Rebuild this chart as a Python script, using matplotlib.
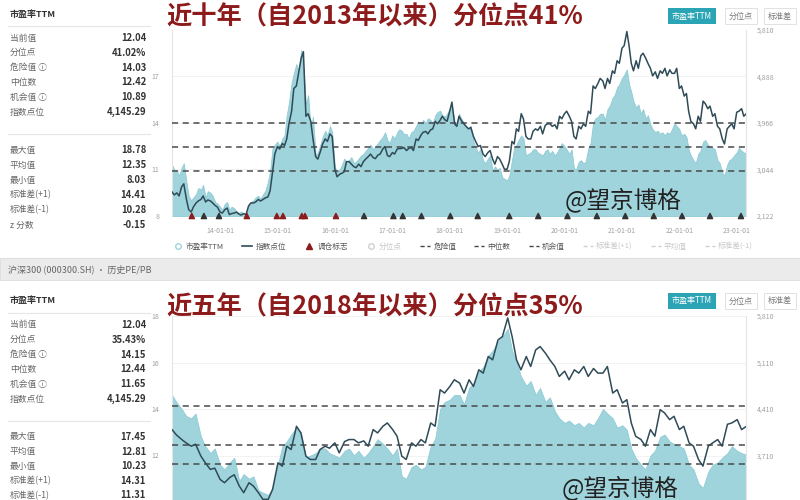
import numpy as np
import pandas as pd
import matplotlib
matplotlib.use('Agg')
import matplotlib.pyplot as plt
import matplotlib.dates as mdates
from matplotlib.patches import Rectangle
from matplotlib.lines import Line2D

plt.rcParams['font.family'] = ['Noto Sans CJK SC', 'DejaVu Sans']

# ---------------- data: CSI 300 PE TTM and index, semi-monthly ----------------
dates = pd.date_range('2013-03-01', '2023-03-01', freq='SMS')
pe = [11.3, 11.0, 10.9, 10.6, 11.1, 11.4, 10.2, 9.3, 9.0, 9.2, 9.4, 9.8, 9.7, 10.0, 9.2, 9.6, 9.5, 9.3, 8.9, 8.8,
      8.6, 8.4, 8.8, 8.9, 8.4, 8.6, 8.5, 8.3, 8.2, 8.3, 8.1, 8.05, 8.6, 8.9, 9.0, 9.2, 9.3, 9.1, 9.4, 9.6, 10.2, 10.9, 12.4, 12.6,
      12.8, 12.5, 13.0, 13.2, 14.5, 15.3, 16.6, 17.2, 17.8, 17.4, 18.7, 17.6, 15.2, 15.8, 13.6, 14.4, 11.9, 12.1, 12.6, 13.1, 13.5, 13.2, 13.8, 13.4,
      11.2, 10.8, 11.0, 11.3, 11.7, 11.5, 11.6, 11.8, 11.4, 11.5, 11.7, 11.9, 12.0, 12.2, 12.4, 12.6, 12.3, 12.5, 12.7, 12.9, 13.1, 13.4, 12.9, 12.7,
      13.2, 13.0, 13.4, 13.6, 13.5, 13.3, 13.3, 13.0, 13.4, 13.5, 13.8, 14.1, 13.9, 14.2, 14.0, 14.3, 14.2, 14.0, 14.5, 14.7, 14.8, 14.5, 14.4, 14.6,
      14.9, 15.1, 14.1, 13.9, 14.6, 14.3, 14.0, 13.7, 13.6, 13.8, 12.8, 12.4, 12.1, 12.3, 11.6, 11.4, 11.7, 11.9, 10.9, 11.2, 11.0, 11.1, 10.5, 10.4,
      10.3, 10.6, 11.6, 12.4, 12.6, 12.9, 13.2, 13.0, 11.9, 12.0, 12.1, 12.3, 12.3, 12.1, 12.0, 11.9, 12.2, 12.3, 12.0, 12.2, 11.9, 12.1, 12.4, 12.7,
      12.5, 12.3, 12.0, 12.3, 11.1, 11.0, 11.5, 11.6, 11.4, 11.5, 12.4, 12.7, 14.0, 14.3, 14.4, 14.6, 14.6, 14.2, 14.9, 15.1, 15.6, 15.8, 16.3, 16.5,
      16.9, 17.1, 17.45, 16.5, 16.0, 15.4, 15.0, 15.2, 14.6, 14.9, 14.3, 14.5, 13.9, 13.6, 13.4, 13.5, 13.3, 13.4, 13.2, 13.4, 13.3, 13.6, 14.0, 13.8,
      13.6, 13.2, 13.3, 13.1, 12.3, 11.9, 11.6, 11.4, 12.0, 12.2, 12.8, 12.9, 12.6, 12.5, 12.4, 12.3, 11.6, 11.4, 10.8, 10.6, 11.3, 11.6, 11.7, 11.9,
      12.1, 12.4, 12.2, 12.1, 12.04]
idx = [2600, 2540, 2580, 2520, 2700, 2760, 2450, 2250, 2200, 2300, 2380, 2420, 2450, 2520, 2400, 2440, 2420, 2380, 2330, 2300,
       2200, 2180, 2250, 2280, 2150, 2170, 2180, 2200, 2160, 2140, 2170, 2150, 2320, 2380, 2380, 2400, 2450, 2420, 2450, 2480, 2500, 2620, 3000, 3350,
       3500, 3450, 3560, 3520, 3650, 3950, 4200, 4650, 4700, 4950, 5250, 5380, 4100, 4150, 4000, 3650, 3300, 3250, 3400, 3550, 3650, 3600, 3750, 3700,
       3050, 2900, 2950, 2970, 3000, 3200, 3200, 3150, 3100, 3080, 3150, 3100, 3200, 3250, 3300, 3350, 3280, 3260, 3330, 3350, 3450, 3500, 3320, 3300,
       3380, 3350, 3450, 3460, 3460, 3480, 3420, 3460, 3480, 3420, 3650, 3620, 3720, 3780, 3800, 3750, 3830, 3850, 4000, 3950, 4020, 4100, 4030, 4000,
       4200, 4380, 3950, 3900, 4100, 4020, 3950, 3900, 3850, 3880, 3700, 3600, 3500, 3520, 3350, 3300, 3380, 3420, 3250, 3150, 3300, 3250, 3150, 3050,
       3050, 3200, 3600, 3550, 3850, 3800, 4150, 4050, 3700, 3650, 3650, 3800, 3850, 3820, 3900, 3750, 3920, 3950, 3950, 3900, 3930, 3850, 4100, 4050,
       4150, 4200, 4100, 4000, 3700, 3650, 3900, 3850, 3950, 3900, 4200, 4150, 4700, 4650, 4750, 4850, 4800, 4650, 4850, 4750, 5000, 4950, 5200, 5150,
       5450, 5500, 5780, 5500, 5150, 5000, 5200, 5050, 5300, 5350, 5250, 5150, 5050, 4900, 4980, 4850, 5000, 4950, 5050, 4900, 5020, 4950, 4950, 5050,
       4650, 4700, 4500, 4550, 4200, 4000, 3950, 3850, 4100, 4000, 4400, 4350, 4250, 4300, 4100, 4150, 3900, 3850, 3650, 3550, 3850, 3900, 3950, 3850,
       4180, 4200, 4250, 4100, 4145]

# top panel: 10 years
top_levels = [14.03, 12.42, 10.89]
top_marks = ['2013-07-05', '2013-09-20', '2013-12-25', '2014-06-20', '2014-12-28',
             '2015-02-05', '2015-06-05', '2015-06-25', '2016-01-08', '2016-07-05',
             '2017-01-08', '2017-03-08', '2017-07-05', '2018-01-05', '2018-06-28',
             '2019-01-15', '2019-07-18', '2020-01-20', '2020-07-25', '2021-01-22',
             '2021-07-22', '2022-01-18', '2022-07-15', '2023-01-28']
top_mark_red = [1, 0, 0, 1, 1, 1, 1, 1, 1, 0, 0, 0, 0, 0, 0, 0, 0, 0, 0, 0, 0, 0, 0, 0]
top_info = [('当前值', '12.04'), ('分位点', '41.02%'), ('危险值 ⓘ', '14.03'),
            ('中位数', '12.42'), ('机会值 ⓘ', '10.89'), ('指数点位', '4,145.29')]
top_stats = [('最大值', '18.78'), ('平均值', '12.35'), ('最小值', '8.03'),
             ('标准差(+1)', '14.41'), ('标准差(-1)', '10.28'), ('z 分数', '-0.15')]

# bottom panel: 5 years
bot_start = '2018-03-01'
bot_levels = [14.15, 12.44, 11.65]
bot_info = [('当前值', '12.04'), ('分位点', '35.43%'), ('危险值 ⓘ', '14.15'),
            ('中位数', '12.44'), ('机会值 ⓘ', '11.65'), ('指数点位', '4,145.29')]
bot_stats = [('最大值', '17.45'), ('平均值', '12.81'), ('最小值', '10.23'),
             ('标准差(+1)', '14.31'), ('标准差(-1)', '11.31')]

W, H = 800, 500
TEAL_FILL = '#9fd4dc'
LINE_C = '#2f4b57'
RED = '#8e1b1b'


def rect(x0, y0, x1, y1):
    return [x0 / W, 1 - y1 / H, (x1 - x0) / W, (y1 - y0) / H]


def fx(x):
    return x / W


def fy(y):
    return 1 - y / H


def info_block(fig, y_head, rows, y_rows, stats, y_stats, step2):
    fig.text(fx(10), fy(y_head), '市盈率TTM', fontsize=6.5, fontweight='bold',
             color='#333', va='center')
    fig.add_artist(Line2D([fx(8), fx(150)], [fy(y_head + 12)] * 2, color='#e6e6e6', lw=0.8))
    for i, (k, v) in enumerate(rows):
        y = y_rows + i * 14.8
        fig.text(fx(10), fy(y), k, fontsize=6.3, color='#666', va='center')
        fig.text(fx(146), fy(y), v, fontsize=6.8, fontweight='bold', color='#333',
                 va='center', ha='right')
    fig.add_artist(Line2D([fx(8), fx(150)], [fy(y_stats - 16)] * 2, color='#e6e6e6', lw=0.8))
    for i, (k, v) in enumerate(stats):
        y = y_stats + i * step2
        fig.text(fx(10), fy(y), k, fontsize=6.3, color='#666', va='center')
        fig.text(fx(146), fy(y), v, fontsize=6.8, fontweight='bold', color='#333',
                 va='center', ha='right')


def buttons(fig, y):
    fig.text(fx(692), fy(y), '市盈率TTM', fontsize=5.8, color='white', ha='center',
             va='center', bbox=dict(boxstyle='square,pad=0.45', fc='#2ba4b5', ec='none'))
    fig.text(fx(741), fy(y), '分位点', fontsize=5.8, color='#777', ha='center',
             va='center', bbox=dict(boxstyle='square,pad=0.45', fc='white', ec='#dddddd', lw=0.6))
    fig.text(fx(780), fy(y), '标准差', fontsize=5.8, color='#777', ha='center',
             va='center', bbox=dict(boxstyle='square,pad=0.45', fc='white', ec='#dddddd', lw=0.6))


def panel(fig, box, d, p, ix, pe_lim, idx_lim, left_ticks, right_ticks, levels, show_x):
    ax = fig.add_axes(rect(*box))
    ax.fill_between(d, pe_lim[0], p, color=TEAL_FILL, lw=0.6, edgecolor='#8fcbd5')
    for v in levels:
        ax.axhline(v, color='#4a4a4a', ls=(0, (4, 3)), lw=1.1, zorder=3)
    ax.set_ylim(*pe_lim)
    ax.set_xlim(d[0], d[-1])
    ax.set_yticks(left_ticks)
    ax.set_yticklabels([str(t) for t in left_ticks])
    ax.grid(axis='y', color='#f0f0f0', lw=0.6)
    ax.set_axisbelow(True)
    ax.tick_params(axis='y', length=0, labelsize=5, labelcolor='#a0a0a0', pad=9)
    for s in ['top', 'bottom']:
        ax.spines[s].set_visible(False)
    for s in ['left', 'right']:
        ax.spines[s].set_color('#e4e4e4')
        ax.spines[s].set_linewidth(0.8)

    ax2 = ax.twinx()
    ax2.plot(d, ix, color=LINE_C, lw=1.1)
    ax2.set_ylim(*idx_lim)
    ax2.set_yticks(right_ticks)
    ax2.set_yticklabels(['{:,}'.format(t) for t in right_ticks])
    ax2.tick_params(axis='y', length=0, labelsize=5, labelcolor='#a0a0a0', pad=8)
    for s in ['top', 'bottom', 'left', 'right']:
        ax2.spines[s].set_visible(False)

    if show_x:
        ax.xaxis.set_major_locator(mdates.YearLocator())
        ax.xaxis.set_major_formatter(mdates.DateFormatter('%y-%m-%d'))
        ax.tick_params(axis='x', length=0, labelsize=5, labelcolor='#a0a0a0', pad=8)
    else:
        ax.set_xticks([])
    return ax, ax2


fig = plt.figure(figsize=(8, 5), dpi=100)
pe = np.array(pe)
idx = np.array(idx)

# ---------- top panel ----------
info_block(fig, 14, top_info, 38, top_stats, 150, 15)
fig.text(fx(166), fy(17), '近十年（自2013年以来）分位点41%', fontsize=18.2, color=RED,
         fontweight='bold', va='center')
buttons(fig, 16)
ax, ax2 = panel(fig, (172, 30, 746, 216), dates, pe, idx, (8, 20),
                (2122, 5810), [8, 11, 14, 17], [2122, 3044, 3966, 4888, 5810],
                top_levels, True)
mk = pd.to_datetime(top_marks)
cols = [RED if r else '#333333' for r in top_mark_red]
ax2.scatter(mk, [2122] * len(mk), marker='^', s=14, c=cols, clip_on=False, zorder=6)
fig.text(fx(623), fy(200), '@望京博格', fontsize=17, color='#222', ha='center', va='center')

# legend row
handles = [Line2D([], [], marker='o', ls='none', mfc='white', mec=TEAL_FILL, ms=4),
           Line2D([], [], color=LINE_C, lw=1.2),
           Line2D([], [], marker='^', ls='none', color=RED, ms=4),
           Line2D([], [], marker='o', ls='none', mfc='white', mec='#d0d0d0', ms=4),
           Line2D([], [], color='#444', ls=(0, (3, 2)), lw=1),
           Line2D([], [], color='#444', ls=(0, (3, 2)), lw=1),
           Line2D([], [], color='#444', ls=(0, (3, 2)), lw=1),
           Line2D([], [], color='#cfcfcf', ls=(0, (3, 2)), lw=1),
           Line2D([], [], color='#cfcfcf', ls=(0, (3, 2)), lw=1),
           Line2D([], [], color='#cfcfcf', ls=(0, (3, 2)), lw=1)]
labels = ['市盈率TTM', '指数点位', '调仓标志', '分位点', '危险值', '中位数', '机会值',
          '标准差(+1)', '平均值', '标准差(-1)']
leg = fig.legend(handles, labels, loc='center', bbox_to_anchor=(fx(463), fy(247)),
                 ncol=10, frameon=False, fontsize=5.5, handlelength=1.3,
                 handletextpad=0.4, columnspacing=2.4)
for i, t in enumerate(leg.get_texts()):
    t.set_color('#555' if i not in (3, 7, 8, 9) else '#c8c8c8')

# grey header band of the second screenshot
fig.add_artist(Rectangle((0, fy(280)), 1, 22 / H, transform=fig.transFigure,
                         fc='#ebebeb', ec='#dcdcdc', lw=0.6))
fig.text(fx(8), fy(269), '沪深300 (000300.SH) · 历史PE/PB', fontsize=6.5, color='#666',
         va='center')

# ---------- bottom panel ----------
sel = dates >= pd.Timestamp(bot_start)
info_block(fig, 301, bot_info, 325, bot_stats, 437, 14.6)
fig.text(fx(166), fy(307), '近五年（自2018年以来）分位点35%', fontsize=18.2, color=RED,
         fontweight='bold', va='center')
buttons(fig, 301)
panel(fig, (172, 316, 746, 502), dates[sel], pe[sel], idx[sel], (10, 18),
      (3010, 5810), [12, 14, 16, 18], [3710, 4410, 5110, 5810],
      bot_levels, False)
fig.text(fx(620), fy(488), '@望京博格', fontsize=17, color='#222', ha='center', va='center')

fig.savefig('out.png', dpi=100)
